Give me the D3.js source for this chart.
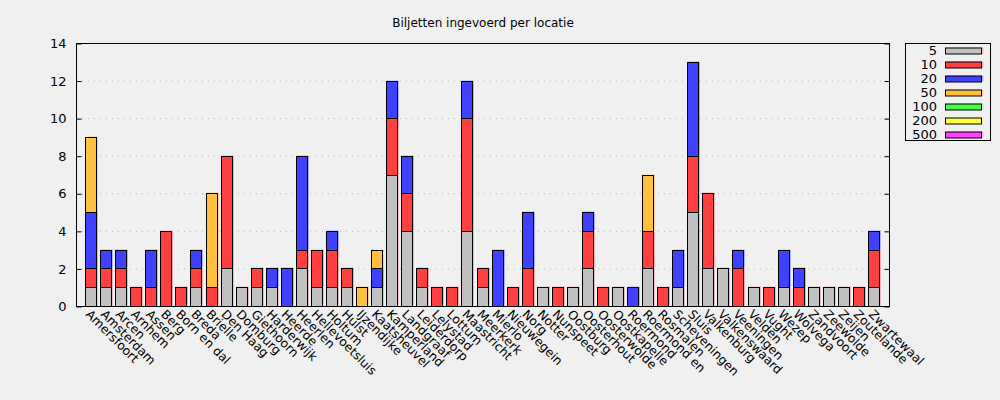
<!DOCTYPE html>
<html>
<head>
<meta charset="utf-8">
<script src="https://cdn.jsdelivr.net/npm/d3@7"></script>
<style>
  html, body { margin: 0; padding: 0; background: #f0f0f0; }
  svg { display: block; font-family: "DejaVu Sans", sans-serif; }
</style>
</head>
<body>
<svg id="chart" width="1000" height="400"></svg>
<script>
const title = "Biljetten ingevoerd per locatie";
const locations = ["Amersfoort","Amsterdam","Arcen","Arnhem","Assen","Berg","Born en dal","Breda","Brielle","Den Haag",
  "Domburg","Giethoorn","Harderwijk","Heerde","Heerlen","Hellevoetsluis","Holtum","Hulst","IJzendijke","Kaatsheuvel",
  "Kamperland","Landgraaf","Leiderdorp","Lelystad","Lottum","Maastricht","Meerkerk","Mierlo","Nieuwegein","Norg",
  "Notter","Nunspeet","Oostburg","Oosterhout","Oosterwolde","Oostkapelle","Roermond","Roermond en","Rosmalen","Scheveningen",
  "Sluis","Valkenburg","Valkenswaard","Veeningen","Velden","Vught","Wezep","Wolvega","Zandvoort","Zeewolde",
  "Zeijen","Zoutelande","Zwartewaal"];
const seriesNames = ["5","10","20","50","100","200","500"];
const v5   = [1,1,1,0,0,0,0,1,0,2, 1,1,1,0,2,1,1,1,0,1, 7,4,1,0,0,4,1,0,0,0, 1,0,1,2,0,1,0,2,0,1, 5,2,2,0,1,0,1,0,1,1, 1,0,1];
const v10  = [1,1,1,1,1,4,1,1,1,6, 0,1,0,0,1,2,2,1,0,0, 3,2,1,1,1,6,1,0,1,2, 0,1,0,2,1,0,0,2,1,0, 3,4,0,2,0,1,0,1,0,0, 0,1,2];
const v20  = [3,1,1,0,2,0,0,1,0,0, 0,0,1,2,5,0,1,0,0,1, 2,2,0,0,0,2,0,3,0,3, 0,0,0,1,0,0,1,0,0,2, 5,0,0,1,0,0,2,1,0,0, 0,0,1];
const v50  = [4,0,0,0,0,0,0,0,5,0, 0,0,0,0,0,0,0,0,1,1, 0,0,0,0,0,0,0,0,0,0, 0,0,0,0,0,0,0,3,0,0, 0,0,0,0,0,0,0,0,0,0, 0,0,0];
const v100 = new Array(53).fill(0);
const v200 = new Array(53).fill(0);
const v500 = new Array(53).fill(0);
const yTicks = [0,2,4,6,8,10,12,14];
const colors = ["#c0c0c0","#ff4040","#4040ff","#ffc040","#40ff40","#ffff40","#ff40ff"];
const halos  = ["#e6bcc2","#f2b0b6","#b0b0f4","#f4d0a0","#b0f4b0","#f4f4b0","#f4b0f4"];

const valuesBySeries = [v5, v10, v20, v50, v100, v200, v500];
const rows = locations.map((loc, i) => {
  const r = { loc };
  seriesNames.forEach((s, k) => r[s] = valuesBySeries[k][i]);
  return r;
});

const svg = d3.select("#chart");
const M = { left: 76, top: 43, right: 889, bottom: 306 };

svg.append("rect").attr("width", 1000).attr("height", 400).attr("fill", "#f0f0f0");

const x = d3.scalePoint().domain(locations).range([M.left, M.right]).padding(1);
const y = d3.scaleLinear().domain([0, 14]).range([M.bottom, M.top]);
const bw = 12;

// grid
svg.append("g").selectAll("line").data(yTicks.filter(t => t > 0 && t < 14)).join("line")
  .attr("x1", M.left).attr("x2", M.right)
  .attr("y1", d => y(d) + 0.5).attr("y2", d => y(d) + 0.5)
  .attr("stroke", "#b8b8b8").attr("stroke-width", 1).attr("stroke-dasharray", "1,5");

// bars
const stacked = d3.stack().keys(seriesNames)(rows);
const gb = svg.append("g");
stacked.forEach((layer, k) => {
  const segs = layer.map((d, i) => ({ y0: d[0], y1: d[1], loc: locations[i] })).filter(d => d.y1 > d.y0);
  gb.selectAll(null).data(segs).join("rect")
    .attr("x", d => Math.round(x(d.loc) - bw / 2) + 1)
    .attr("y", d => Math.round(y(d.y1)) - 0.5)
    .attr("width", bw).attr("height", d => Math.round(y(d.y0)) - Math.round(y(d.y1)))
    .attr("fill", halos[k]);
});
stacked.forEach((layer, k) => {
  const segs = layer.map((d, i) => ({ y0: d[0], y1: d[1], loc: locations[i] })).filter(d => d.y1 > d.y0);
  gb.selectAll(null).data(segs).join("rect")
    .attr("x", d => Math.round(x(d.loc) - bw / 2) + 0.5)
    .attr("y", d => Math.round(y(d.y1)) + 0.5)
    .attr("width", bw - 1).attr("height", d => Math.round(y(d.y0)) - Math.round(y(d.y1)))
    .attr("fill", colors[k]).attr("stroke", "#000").attr("stroke-width", 1);
});

// frame
svg.append("rect").attr("x", M.left + 0.5).attr("y", M.top + 0.5)
  .attr("width", M.right - M.left).attr("height", M.bottom - M.top)
  .attr("fill", "none").attr("stroke", "#000").attr("stroke-width", 1);

// y axis left (inward ticks)
const yAxisL = d3.axisLeft(y).tickValues(yTicks).tickSizeInner(-5).tickSizeOuter(0).tickPadding(10);
const gL = svg.append("g").attr("transform", `translate(${M.left + 0.5},0.5)`).call(yAxisL);
gL.select(".domain").remove();
gL.selectAll("text").attr("font-size", 13).attr("fill", "#000").attr("font-family", "DejaVu Sans, sans-serif");
gL.selectAll("line").attr("stroke", "#000");

const yAxisR = d3.axisRight(y).tickValues(yTicks).tickSizeInner(-5).tickSizeOuter(0).tickFormat("");
const gR = svg.append("g").attr("transform", `translate(${M.right + 0.5},0.5)`).call(yAxisR);
gR.select(".domain").remove();
gR.selectAll("line").attr("stroke", "#000");

// x labels
svg.append("g").selectAll("text").data(locations).join("text")
  .attr("transform", d => `translate(${x(d) - 3},${M.bottom + 6}) rotate(45)`)
  .attr("text-anchor", "start").attr("dy", "0.35em")
  .attr("font-size", 12.3).attr("fill", "#000")
  .text(d => d);

// title
svg.append("text").attr("x", 483).attr("y", 27).attr("text-anchor", "middle")
  .attr("font-size", 12).attr("fill", "#000").text(title);

// legend
const lg = svg.append("g");
lg.append("rect").attr("x", 905.5).attr("y", 43.5).attr("width", 85).attr("height", 97)
  .attr("fill", "#f0f0f0").attr("stroke", "#000");
const ly = d3.scalePoint().domain(seriesNames).range([50.5, 134.5]);
seriesNames.forEach((s, k) => {
  lg.append("rect").attr("x", 946.5).attr("y", ly(s) - 3).attr("width", 37).attr("height", 6)
    .attr("fill", halos[k]);
  lg.append("rect").attr("x", 945.5).attr("y", ly(s) - 2.5).attr("width", 36).attr("height", 6)
    .attr("fill", colors[k]).attr("stroke", "#000");
  lg.append("text").attr("x", 937).attr("y", ly(s)).attr("dy", "0.35em")
    .attr("text-anchor", "end").attr("font-size", 13).attr("fill", "#000").text(s);
});
</script>
</body>
</html>
